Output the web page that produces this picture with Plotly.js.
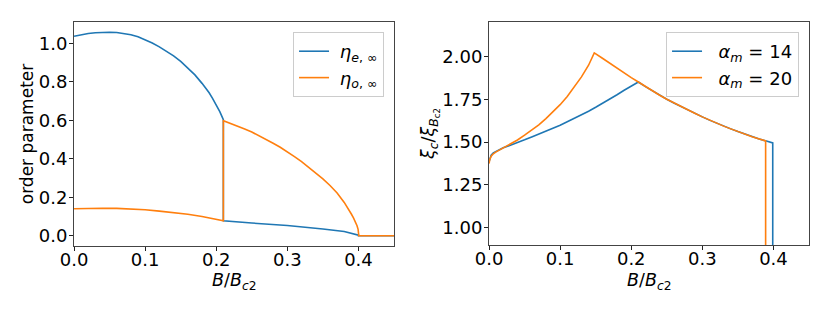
<!DOCTYPE html>
<html>
<head>
<meta charset="utf-8">
<script src="https://cdn.plot.ly/plotly-3.0.1.min.js"></script>
<style>
  body { margin: 0; background: #fff; }
  #chart { width: 830px; height: 312px; }
</style>
</head>
<body>
<div id="chart"></div>
<script>
// left panel: order parameters vs B/Bc2
var etaE_x = [0, 0.01, 0.02, 0.03, 0.04, 0.05, 0.06, 0.07, 0.08, 0.09, 0.10, 0.11, 0.12, 0.13, 0.14, 0.15,
              0.16, 0.17, 0.18, 0.185, 0.19, 0.195, 0.20, 0.205, 0.21,
              0.21, 0.25, 0.30, 0.35, 0.38, 0.40, 0.40, 0.45];
var etaE_y = [1.037, 1.045, 1.051, 1.055, 1.057, 1.058, 1.056, 1.051, 1.045, 1.034, 1.020, 1.002, 0.982, 0.960, 0.935, 0.906,
              0.872, 0.836, 0.792, 0.769, 0.743, 0.713, 0.680, 0.645, 0.603,
              0.078, 0.066, 0.053, 0.035, 0.022, 0.003, 0, 0];

var etaO_x = [0, 0.02, 0.04, 0.06, 0.08, 0.10, 0.12, 0.14, 0.16, 0.18, 0.195, 0.21,
              0.21, 0.22, 0.23, 0.24, 0.25, 0.26, 0.27, 0.28, 0.29, 0.30, 0.31, 0.32, 0.33, 0.34, 0.35,
              0.36, 0.37, 0.38, 0.385, 0.39, 0.393, 0.396, 0.398, 0.3995, 0.4003, 0.4005, 0.45];
var etaO_y = [0.140, 0.142, 0.143, 0.142, 0.139, 0.135, 0.128, 0.121, 0.112, 0.100, 0.090, 0.078,
              0.598, 0.585, 0.571, 0.555, 0.539, 0.521, 0.502, 0.481, 0.460, 0.437, 0.411, 0.385, 0.356, 0.327, 0.295,
              0.261, 0.222, 0.173, 0.145, 0.113, 0.093, 0.072, 0.052, 0.033, 0.015, 0, 0];

// right panel: xi_c / xi_Bc2 for two alpha_m
var xi14_x = [0, 0.001, 0.003, 0.006, 0.01, 0.015, 0.02, 0.03, 0.04, 0.05, 0.06, 0.07, 0.08, 0.09, 0.10,
              0.11, 0.12, 0.13, 0.14, 0.15, 0.16, 0.17, 0.18, 0.19, 0.20, 0.21,
              0.22, 0.23, 0.24, 0.25, 0.26, 0.27, 0.28, 0.29, 0.30, 0.31, 0.32, 0.33, 0.34, 0.35,
              0.36, 0.37, 0.38, 0.39, 0.399, 0.399];
var xi14_y = [1.385, 1.405, 1.424, 1.437, 1.447, 1.458, 1.467, 1.482, 1.496, 1.513, 1.530, 1.546, 1.562, 1.580, 1.598,
              1.618, 1.638, 1.659, 1.680, 1.703, 1.726, 1.751, 1.776, 1.802, 1.828, 1.850,
              1.823, 1.797, 1.773, 1.750, 1.728, 1.707, 1.687, 1.667, 1.647, 1.628, 1.610, 1.593, 1.577, 1.561,
              1.546, 1.531, 1.518, 1.506, 1.495, 0.85];

var xi20_x = [0, 0.001, 0.003, 0.006, 0.01, 0.02, 0.03, 0.04, 0.05, 0.06, 0.07, 0.08, 0.09, 0.10,
              0.11, 0.12, 0.13, 0.14, 0.148, 0.16, 0.17, 0.18, 0.19, 0.20, 0.21,
              0.22, 0.23, 0.24, 0.25, 0.26, 0.27, 0.28, 0.29, 0.30, 0.31, 0.32, 0.33, 0.34, 0.35,
              0.36, 0.37, 0.38, 0.389, 0.389];
var xi20_y = [1.375, 1.398, 1.418, 1.432, 1.443, 1.466, 1.488, 1.512, 1.540, 1.568, 1.600, 1.637, 1.676, 1.718,
              1.766, 1.820, 1.880, 1.948, 2.020, 1.987, 1.958, 1.930, 1.902, 1.876, 1.850,
              1.823, 1.797, 1.773, 1.750, 1.728, 1.707, 1.687, 1.667, 1.647, 1.628, 1.610, 1.593, 1.577, 1.561,
              1.546, 1.531, 1.518, 1.507, 0.85];

var blue = '#1f77b4', orange = '#ff7f0e';
var font = 'DejaVu Sans, sans-serif';

var traces = [
  {x: etaE_x, y: etaE_y, mode: 'lines', line: {color: blue, width: 1.6},
   name: '\u00a0<i>η</i><sub><i>e</i>, ∞</sub>', xaxis: 'x', yaxis: 'y', legend: 'legend'},
  {x: etaO_x, y: etaO_y, mode: 'lines', line: {color: orange, width: 1.6},
   name: '\u00a0<i>η</i><sub><i>o</i>, ∞</sub>', xaxis: 'x', yaxis: 'y', legend: 'legend'},
  {x: xi14_x, y: xi14_y, mode: 'lines', line: {color: blue, width: 1.6},
   name: '\u00a0\u00a0<i>α</i><sub><i>m</i></sub> = 14', xaxis: 'x2', yaxis: 'y2', legend: 'legend2'},
  {x: xi20_x, y: xi20_y, mode: 'lines', line: {color: orange, width: 1.6},
   name: '\u00a0\u00a0<i>α</i><sub><i>m</i></sub> = 20', xaxis: 'x2', yaxis: 'y2', legend: 'legend2'}
];

var axisStyle = {
  showline: true, mirror: true, linecolor: '#444', linewidth: 1,
  ticks: 'outside', ticklen: 4, tickcolor: '#222', tickwidth: 1,
  showgrid: false, zeroline: false,
  tickfont: {family: font, size: 18, color: '#000'}
};

function ax(extra) { return Object.assign({}, axisStyle, extra); }

var xTitleText = '<i>B</i>/<i>B</i><sub><i>c</i>2</sub>';
var titleFont = {family: font, size: 17.5, color: '#000'};

var layout = {
  width: 830, height: 312,
  margin: {l: 0, r: 0, t: 0, b: 0},
  paper_bgcolor: '#fff', plot_bgcolor: '#fff',
  xaxis: ax({domain: [0.0892, 0.4747], range: [0, 0.45], dtick: 0.1, tickformat: '.1f', anchor: 'y', ticklabelstandoff: -7}),
  yaxis: ax({domain: [0.2115, 0.9295], range: [-0.0535, 1.111], dtick: 0.2, tickformat: '.1f', anchor: 'x', ticklabelstandoff: -2,
    title: {text: 'order parameter', font: {family: font, size: 17, color: '#000'}, standoff: 0}}),
  xaxis2: ax({domain: [0.5892, 0.9747], range: [0, 0.45], dtick: 0.1, tickformat: '.1f', anchor: 'y2', ticklabelstandoff: -7}),
  yaxis2: ax({domain: [0.2147, 0.9295], range: [0.9, 2.2], tick0: 1, dtick: 0.25, tickformat: '.2f', anchor: 'x2', ticklabelstandoff: -2,
    title: {text: '<i>ξ</i><sub><i>c</i></sub>/<i>ξ</i><sub><i>B</i><sub>c2</sub></sub>', font: titleFont, standoff: 0}}),
  annotations: [
    {text: xTitleText, xref: 'paper', yref: 'paper', x: 0.2819, y: 0.099, xanchor: 'center', yanchor: 'middle',
     showarrow: false, font: titleFont},
    {text: xTitleText, xref: 'paper', yref: 'paper', x: 0.7819, y: 0.099, xanchor: 'center', yanchor: 'middle',
     showarrow: false, font: titleFont}
  ],
  legend: {x: 0.4627, xanchor: 'right', y: 0.8974, yanchor: 'top',
    bordercolor: '#ccc', borderwidth: 1, bgcolor: 'rgba(255,255,255,0.8)',
    font: {family: font, size: 18, color: '#000'}},
  legend2: {x: 0.9627, xanchor: 'right', y: 0.8974, yanchor: 'top',
    bordercolor: '#ccc', borderwidth: 1, bgcolor: 'rgba(255,255,255,0.8)',
    font: {family: font, size: 18, color: '#000'}},
  showlegend: true
};

Plotly.newPlot('chart', traces, layout, {displayModeBar: false, staticPlot: true});
</script>
</body>
</html>
